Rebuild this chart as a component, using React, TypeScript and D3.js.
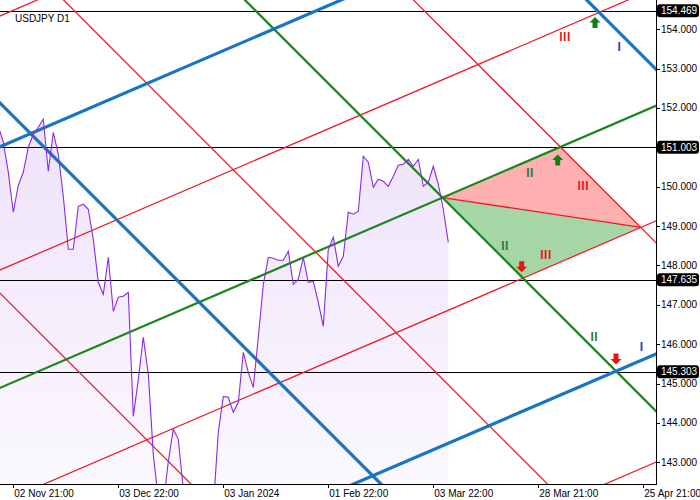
import * as d3 from "d3";

const title = "USDJPY D1";

// daily closes, first value sits on bar -3 (bar 0 = 02 Nov 21:00)
const firstBar = -3;
const closes = [
  151.536, 151.129, 150.367, 149.351, 150.037, 150.367, 151.002, 151.332, 151.51, 151.713,
  150.392, 151.383, 150.824, 149.757, 148.411, 148.411, 149.503, 149.554, 149.427, 148.665,
  147.572, 147.267, 148.207, 146.835, 147.191, 147.217, 147.318, 144.168, 145.108, 146.175,
  145.235, 143.202, 142.059, 141.932, 143.024, 143.837, 143.583, 142.313, 142.186, 142.059,
  141.678, 141.424, 141.043, 141.856, 143.761, 144.676, 144.65, 144.269, 144.523, 145.794,
  145.286, 144.904, 146.175, 147.521, 148.207, 148.182, 148.131, 148.131, 148.36, 147.521,
  147.648, 148.207, 147.572, 147.598, 147.064, 146.454, 148.411, 148.715, 147.979, 148.233,
  149.351, 149.3, 149.376, 150.773, 150.621, 149.986, 150.189, 150.138, 150.011, 150.265,
  150.545, 150.57, 150.697, 150.519, 150.697, 150.011, 150.113, 150.519, 150.062, 149.427,
  148.588,
];

const timeTicks = [0, 21, 42, 63, 84, 105, 126];
const timeLabels = [
  "02 Nov 21:00",
  "03 Dec 22:00",
  "03 Jan 2024",
  "01 Feb 22:00",
  "03 Mar 22:00",
  "28 Mar 21:00",
  "25 Apr 21:00",
];

const priceTicks = [143, 144, 145, 146, 147, 148, 149, 150, 151, 152, 153, 154];
const levelPrices = [154.469, 151.003, 147.635, 145.303];

// trend lines as [bar1, price1, bar2, price2]
const greenRise = [0, 145.035, 100, 150.496];
const greenFall = [0, 160.625, 100, 147.925];
const redFall = [0, 164.907, 100, 152.207];
const redRise = [0, 142.111, 100, 147.572];
const redLines = [
  [0, 154.481, 100, 159.942],
  [0, 148.029, 100, 153.49],
  [0, 135.984, 100, 141.445],
  [0, 156.017, 100, 143.317],
  [0, 146.962, 100, 134.262],
  redFall,
  redRise,
];
const blueLines = [
  [0, 151.161, 100, 156.622],
  [0, 138.733, 100, 144.194],
  [0, 169.307, 100, 156.607],
  [0, 151.788, 100, 139.088],
];

const marks = [
  { text: "III", bar: 110.34, price: 153.802, kind: "red" },
  { text: "I", bar: 121.2, price: 153.556, kind: "blue" },
  { text: "II", bar: 103.34, price: 150.356, kind: "green" },
  { text: "III", bar: 114.0, price: 150.018, kind: "red" },
  { text: "II", bar: 98.34, price: 148.494, kind: "green" },
  { text: "III", bar: 106.54, price: 148.265, kind: "red" },
  { text: "II", bar: 116.2, price: 146.19, kind: "green" },
  { text: "I", bar: 125.68, price: 145.936, kind: "blue" },
];

const arrows = [
  { bar: 116.34, price: 154.171, dir: "up" },
  { bar: 108.88, price: 150.678, dir: "up" },
  { bar: 101.68, price: 147.968, dir: "down" },
  { bar: 120.54, price: 145.624, dir: "down" },
];

const plotRight = 656;
const plotBottom = 484;
const font = "'Liberation Sans', Arial, sans-serif";

const x = d3.scaleLinear().domain([0, 126]).range([13.3, 643.3]);
const y = d3.scaleLinear().domain([142.449, 154.742]).range([plotBottom, 0]);

const markColor: Record<string, string> = {
  red: "#e01c1c",
  blue: "#2336d0",
  green: "#2e7a2e",
};

function coef(l: number[]) {
  const b = (l[3] - l[1]) / (l[2] - l[0]);
  return { a: l[1] - b * l[0], b };
}

function meet(l1: number[], l2: number[]): [number, number] {
  const c1 = coef(l1);
  const c2 = coef(l2);
  const t = (c2.a - c1.a) / (c1.b - c2.b);
  return [x(t), y(c1.a + c1.b * t)];
}

function seg(l: number[]) {
  const c = coef(l);
  const t0 = -30;
  const t1 = 160;
  return { x1: x(t0), y1: y(c.a + c.b * t0), x2: x(t1), y2: y(c.a + c.b * t1) };
}

function arrowPath(cx: number, cy: number, dir: string) {
  const s = dir === "up" ? 1 : -1;
  const pts = [
    [0, -5.5],
    [5.5, 0],
    [2.5, 0],
    [2.5, 5.5],
    [-2.5, 5.5],
    [-2.5, 0],
    [-5.5, 0],
  ];
  return "M" + pts.map(([dx, dy]) => `${cx + dx},${cy + dy * s}`).join("L") + "Z";
}

export default function App() {
  const priceLine = d3
    .line<number>()
    .x((_, i) => x(firstBar + i))
    .y((d) => y(d));
  const priceArea = d3
    .area<number>()
    .x((_, i) => x(firstBar + i))
    .y0(plotBottom)
    .y1((d) => y(d));

  const P = meet(greenRise, greenFall);
  const A = meet(greenRise, redFall);
  const B = meet(redFall, redRise);
  const C = meet(greenFall, redRise);

  const red = "#ec1a26";

  return (
    <div style={{ position: "absolute", left: 0, top: 0 }}>
      <svg width={700} height={500} style={{ display: "block", background: "#fff" }}>
        <defs>
          <clipPath id="plot">
            <rect x={0} y={0} width={plotRight} height={plotBottom} />
          </clipPath>
          <linearGradient id="fill" gradientUnits="userSpaceOnUse" x1={0} y1={120} x2={0} y2={plotBottom}>
            <stop offset="0" stopColor="#eee2fa" />
            <stop offset="1" stopColor="#fbf8fe" />
          </linearGradient>
        </defs>

        <g clipPath="url(#plot)">
          <path d={priceArea(closes) || ""} fill="url(#fill)" />
          <path d={`M${P}L${A}L${B}Z`} fill="#ffb0b0" />
          <path d={`M${P}L${B}L${C}Z`} fill="#a6d6a6" />

          {levelPrices.map((p) => (
            <line key={p} x1={0} x2={plotRight} y1={Math.round(y(p)) + 0.5} y2={Math.round(y(p)) + 0.5} stroke="#000" />
          ))}

          {redLines.map((l, i) => (
            <line key={"r" + i} {...seg(l)} stroke={red} strokeWidth={1.25} />
          ))}
          <line x1={P[0]} y1={P[1]} x2={B[0]} y2={B[1]} stroke={red} strokeWidth={1.25} />
          {[greenRise, greenFall].map((l, i) => (
            <line key={"g" + i} {...seg(l)} stroke="#1c861c" strokeWidth={2.2} />
          ))}
          {blueLines.map((l, i) => (
            <line key={"b" + i} {...seg(l)} stroke="#1874c4" strokeWidth={3.2} />
          ))}

          <path d={priceLine(closes) || ""} fill="none" stroke="#8a2be2" strokeWidth={1.1} />

          {arrows.map((a, i) => (
            <path
              key={"a" + i}
              d={arrowPath(x(a.bar), y(a.price), a.dir)}
              fill={a.dir === "up" ? "#0f800f" : "#f01010"}
            />
          ))}
          {marks.map((m, i) => (
            <text
              key={"m" + i}
              x={x(m.bar)}
              y={y(m.price)}
              textAnchor="middle"
              dominantBaseline="central"
              fontFamily={font}
              fontWeight="bold"
              fontSize={12}
              letterSpacing={0.5}
              fill={markColor[m.kind]}
            >
              {m.text}
            </text>
          ))}
        </g>

        <text x={15} y={22} fontFamily={font} fontSize={10} fill="#000">
          {title}
        </text>

        {/* axes */}
        <line x1={plotRight + 0.5} x2={plotRight + 0.5} y1={0} y2={plotBottom + 1} stroke="#000" />
        <line x1={0} x2={plotRight + 1} y1={plotBottom + 0.5} y2={plotBottom + 0.5} stroke="#000" />

        {timeTicks.map((t, i) => (
          <g key={"t" + t}>
            <line x1={Math.round(x(t)) + 0.5} x2={Math.round(x(t)) + 0.5} y1={plotBottom} y2={plotBottom + 4} stroke="#000" />
            <text x={x(t) + 1} y={497} fontFamily={font} fontSize={10} fill="#000">
              {timeLabels[i]}
            </text>
          </g>
        ))}

        {priceTicks.map((p) => (
          <g key={"p" + p}>
            <line x1={plotRight} x2={plotRight + 4} y1={Math.round(y(p)) + 0.5} y2={Math.round(y(p)) + 0.5} stroke="#000" />
            <text x={661} y={y(p)} dominantBaseline="central" fontFamily={font} fontSize={10} fill="#000">
              {p.toFixed(3)}
            </text>
          </g>
        ))}

        {levelPrices.map((p) => (
          <g key={"l" + p}>
            <rect x={657} y={y(p) - 6.5} width={42} height={13} rx={3} fill="#000" />
            <text x={661} y={y(p)} dominantBaseline="central" fontFamily={font} fontSize={10} fill="#fff">
              {p.toFixed(3)}
            </text>
          </g>
        ))}
      </svg>
    </div>
  );
}
